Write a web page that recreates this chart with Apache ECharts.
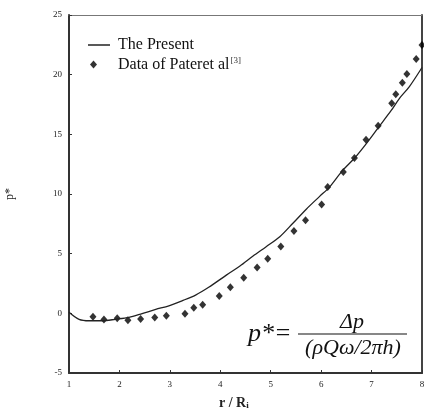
<!DOCTYPE html>
<html>
<head>
<meta charset="utf-8">
<script src="https://cdn.jsdelivr.net/npm/echarts@6/dist/echarts.min.js"></script>
<style>
html,body{margin:0;padding:0;background:#fff;}
#chart{width:424px;height:414px;}
</style>
</head>
<body>
<div id="chart"></div>
<script>
// Model curve "The Present": [r/Ri, p*]
const presentX = [1.0, 1.2, 1.4, 1.66, 1.92, 2.19, 2.45, 2.72, 2.98, 3.24, 3.51, 3.77, 4.12, 4.39, 4.65, 4.91, 5.18, 5.44, 5.71, 5.97, 6.17, 6.43, 6.66, 6.9, 7.13, 7.39, 7.55, 7.75, 8.0];
const presentY = [0.1, -0.5, -0.62, -0.62, -0.5, -0.34, -0.02, 0.33, 0.63, 1.05, 1.53, 2.18, 3.2, 3.96, 4.8, 5.58, 6.42, 7.55, 8.75, 9.8, 10.6, 12.0, 13.0, 14.25, 15.55, 17.0, 18.0, 19.0, 20.6];
// Measured data "Data of Pateret al [3]"
const dataX = [1.475, 1.693, 1.956, 2.168, 2.42, 2.70, 2.93, 3.30, 3.475, 3.65, 3.98, 4.20, 4.465, 4.73, 4.94, 5.20, 5.46, 5.69, 6.01, 6.13, 6.44, 6.66, 6.89, 7.13, 7.40, 7.48, 7.61, 7.70, 7.885, 8.0];
const dataY = [-0.29, -0.51, -0.42, -0.59, -0.48, -0.34, -0.21, -0.04, 0.47, 0.72, 1.45, 2.18, 2.98, 3.85, 4.57, 5.61, 6.9, 7.79, 9.13, 10.58, 11.84, 13.01, 14.55, 15.72, 17.6, 18.35, 19.33, 20.05, 21.31, 22.49];
const xTicks = [1, 2, 3, 4, 5, 6, 7, 8];
const yTicks = [-5, 0, 5, 10, 15, 20, 25];

const presentName = 'The Present';
const dataName = 'Data of Pateret al';

const serif = '"Liberation Serif", "DejaVu Serif", serif';
const chart = echarts.init(document.getElementById('chart'), null, {renderer: 'canvas'});

chart.setOption({
  animation: false,
  backgroundColor: '#fff',
  grid: {left: 69, top: 15, right: 2, bottom: 41, show: false, containLabel: false, outerBoundsMode: 'none'},
  legend: [
    {
      data: [{name: presentName, icon: 'rect'}], left: 83, top: 32, itemWidth: 22, itemHeight: 1.5,
      itemStyle: {color: '#222'},
      textStyle: {fontFamily: serif, fontSize: 16, color: '#111', padding: [0, 0, 0, 3]}
    },
    {
      data: [{name: dataName, icon: 'diamond'}], left: 85, top: 51, itemWidth: 7, itemHeight: 8,
      formatter: function (n) { return '{t|' + n + '}{s|[3]}'; },
      textStyle: {
        fontFamily: serif, fontSize: 16, color: '#111', padding: [0, 0, 0, 16],
        rich: {t: {fontFamily: serif, fontSize: 16, color: '#111'}, s: {fontFamily: serif, fontSize: 9, color: '#333', verticalAlign: 'top', padding: [0, 0, 8, 1]}}
      }
    }
  ],
  xAxis: [
    {
      type: 'value', min: 1, max: 8, interval: 1,
      axisLine: {show: true, onZero: false, lineStyle: {color: '#333', width: 2}},
      axisTick: {show: true, inside: true, length: 3, lineStyle: {color: '#333'}},
      axisLabel: {fontFamily: serif, fontSize: 9, color: '#222', margin: 7,
        formatter: function (v) { return xTicks.indexOf(v) >= 0 ? String(v) : ''; }},
      splitLine: {show: false}
    },
    {
      type: 'value', position: 'top', min: 1, max: 8,
      axisLine: {show: true, onZero: false, lineStyle: {color: '#777', width: 1}},
      axisTick: {show: false}, axisLabel: {show: false}, splitLine: {show: false}
    }
  ],
  yAxis: [
    {
      type: 'value', min: -5, max: 25, interval: 5,
      name: 'p*', nameLocation: 'middle', nameGap: 53, nameRotate: 90,
      nameTextStyle: {fontFamily: serif, fontSize: 12, color: '#222'},
      axisLine: {show: true, onZero: false, lineStyle: {color: '#333', width: 2}},
      axisTick: {show: true, inside: true, length: 3, lineStyle: {color: '#333'}},
      axisLabel: {fontFamily: serif, fontSize: 9, color: '#222', margin: 7,
        formatter: function (v) { return yTicks.indexOf(v) >= 0 ? String(v) : ''; }},
      splitLine: {show: false}
    },
    {
      type: 'value', position: 'right', min: -5, max: 25,
      axisLine: {show: true, onZero: false, lineStyle: {color: '#444', width: 2}},
      axisTick: {show: false}, axisLabel: {show: false}, splitLine: {show: false}
    }
  ],
  series: [
    {
      name: presentName, type: 'line', xAxisIndex: 0, yAxisIndex: 0,
      data: presentX.map((x, i) => [x, presentY[i]]),
      smooth: 0.3, symbol: 'none', lineStyle: {color: '#222', width: 1.3},
      itemStyle: {color: '#222'}
    },
    {
      name: dataName, type: 'scatter', xAxisIndex: 0, yAxisIndex: 0,
      data: dataX.map((x, i) => [x, dataY[i]]),
      symbol: 'diamond', symbolSize: [7, 8], itemStyle: {color: '#000'}
    }
  ],
  graphic: [
    {
      type: 'text', left: 219, top: 396,
      style: {
        text: '{a|r / R}{b|i}',
        rich: {a: {fontFamily: serif, fontSize: 14, fontWeight: 'bold', fill: '#222'},
               b: {fontFamily: serif, fontSize: 9, fontWeight: 'bold', fill: '#222', verticalAlign: 'bottom', padding: [6, 0, 0, 0]}}
      }
    },
    {
      type: 'text', x: 248, y: 334,
      style: {text: 'p*=', fontFamily: serif, fontStyle: 'italic', fontSize: 26, fill: '#111', textVerticalAlign: 'middle'}
    },
    {
      type: 'text', x: 352, y: 322,
      style: {text: 'Δp', fontFamily: serif, fontStyle: 'italic', fontSize: 22, fill: '#111', textAlign: 'center', textVerticalAlign: 'middle'}
    },
    {
      type: 'line', shape: {x1: 298, y1: 334, x2: 407, y2: 334},
      style: {stroke: '#111', lineWidth: 1.2}
    },
    {
      type: 'text', x: 353, y: 348,
      style: {text: '(ρQω/2πh)', fontFamily: serif, fontStyle: 'italic', fontSize: 22, fill: '#111', textAlign: 'center', textVerticalAlign: 'middle'}
    }
  ]
});
</script>
</body>
</html>
